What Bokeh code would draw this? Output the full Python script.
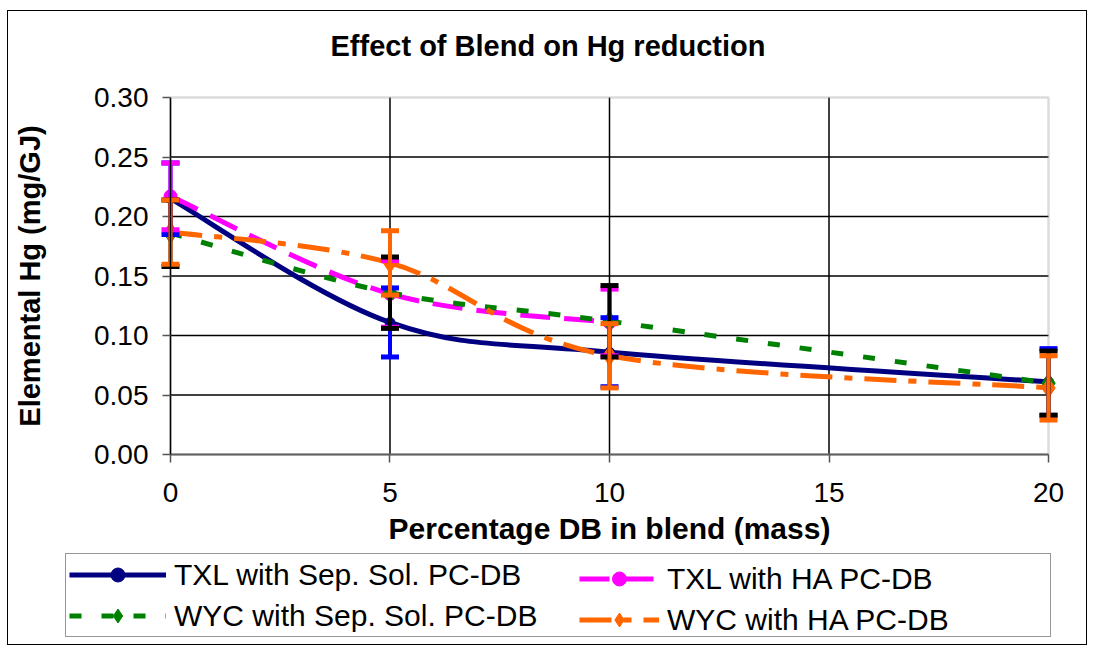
from bokeh.plotting import figure
from bokeh.models import (Range1d, FixedTicker, Whisker, TeeHead, ColumnDataSource,
                          Legend, LegendItem, PrintfTickFormatter, BoxAnnotation)
from bokeh.embed import file_html
from bokeh.resources import INLINE

# ---------------- data ----------------
blend_pct = [0, 5, 10, 20]
txl_sep = [0.215, 0.111, 0.086, 0.061]
txl_sep_err = [0.030, 0.029, 0.029, 0.028]

txl_ha_pct = [0, 5, 10]
txl_ha = [0.217, 0.135, 0.111]
txl_ha_err = [0.028, 0.028, 0.028]

wyc_sep = [0.186, 0.136, 0.112, 0.060]
wyc_sep_err = [0.028, 0.030, 0.030, 0.027]

wyc_ha = [0.187, 0.161, 0.083, 0.056]
wyc_ha_err = [0.027, 0.027, 0.027, 0.027]

x_ticks = [0, 5, 10, 15, 20]
y_ticks = [0.0, 0.05, 0.10, 0.15, 0.20, 0.25, 0.30]

FONT = "Liberation Sans"

# The frame covers the whole chart body; the visible plot box (0-20, 0-0.30)
# sits inside it, axes are pinned to the box with fixed_location.
X_LEFT_PAD = 3.69    # data units left of x=0 (room for y axis labels)
X_RIGHT_PAD = 0.911  # data units right of x=20
Y_BELOW = 0.1613     # data units below y=0 (room for x axis texts + legend)
Y_ABOVE = 0.0160     # data units above y=0.30 (room for the top tick label)

p = figure(width=1080, height=635, output_backend="svg", toolbar_location=None,
           x_range=Range1d(x_ticks[0] - X_LEFT_PAD, x_ticks[-1] + X_RIGHT_PAD),
           y_range=Range1d(y_ticks[0] - Y_BELOW, y_ticks[-1] + Y_ABOVE),
           min_border_left=0, min_border_right=0, min_border_top=67,
           min_border_bottom=0)
p.margin = (10, 0, 0, 7)
p.styles = {"border": "1px solid black"}
p.background_fill_color = "white"
p.border_fill_color = "white"
p.outline_line_color = None

p.title.text = "Effect of Blend on Hg reduction"
p.title.text_font = FONT
p.title.text_font_size = "29px"
p.title.text_font_style = "bold"
p.title.text_color = "black"
p.title.align = "left"
p.title.offset = 322
p.title.standoff = 33

# axes
p.xaxis.ticker = FixedTicker(ticks=x_ticks)
p.yaxis.ticker = FixedTicker(ticks=y_ticks)
p.yaxis.formatter = PrintfTickFormatter(format="%.2f")
for ax in (p.xaxis[0], p.yaxis[0]):
    ax.major_label_text_font = FONT
    ax.major_label_text_font_size = "28px"
    ax.major_label_text_color = "black"
    ax.axis_label_text_font = FONT
    ax.axis_label_text_font_style = "bold"
    ax.axis_label_text_color = "black"
    ax.major_tick_line_color = "#555555"
    ax.major_tick_line_width = 1.5
    ax.major_tick_out = 8
    ax.major_tick_in = 0
    ax.minor_tick_line_color = None
p.xaxis.bounds = (x_ticks[0], x_ticks[-1])
p.xaxis.fixed_location = y_ticks[0]
p.xaxis.axis_line_color = "#606060"
p.xaxis.axis_line_width = 2
p.yaxis.bounds = (y_ticks[0], y_ticks[-1])
p.yaxis.fixed_location = x_ticks[0]
p.yaxis.axis_line_color = "black"
p.yaxis.axis_line_width = 1.5
p.xaxis.axis_label = "Percentage DB in blend (mass)"
p.xaxis.axis_label_text_font_size = "30px"
p.xaxis.major_label_standoff = 20
p.xaxis.axis_label_standoff = 7
p.yaxis.axis_label = "Elemental Hg (mg/GJ)"
p.yaxis.axis_label_text_font_size = "29px"
p.yaxis.major_label_standoff = 14
p.yaxis.axis_label_standoff = 45

p.xgrid.grid_line_color = None
p.ygrid.grid_line_color = None

# grid lines limited to the plot box
gx = x_ticks[1:-1]
p.segment(x0=gx, y0=[y_ticks[0]] * len(gx), x1=gx, y1=[y_ticks[-1]] * len(gx),
          line_color="black", line_width=1.5, level="underlay")
gy = y_ticks[1:-1]
p.segment(x0=[x_ticks[0]] * len(gy), y0=gy, x1=[x_ticks[-1]] * len(gy), y1=gy,
          line_color="black", line_width=1.5, level="underlay")
# plot-area box
p.add_layout(BoxAnnotation(left=x_ticks[0], right=x_ticks[-1], bottom=y_ticks[0],
                           top=y_ticks[-1], fill_color=None, fill_alpha=0,
                           line_color="#8c8c8c", line_width=2.5, level="underlay"))


def smooth_source(xs, ys):
    """Excel-style smoothed line: cubic Bezier segments whose control points
    are derived from neighbouring data points (Catmull-Rom, 1/6 tension)."""
    n = len(xs)
    d = {k: [] for k in ("x0", "y0", "x1", "y1", "cx0", "cy0", "cx1", "cy1")}
    for i in range(n - 1):
        xp, yp = (xs[i - 1], ys[i - 1]) if i > 0 else (xs[i], ys[i])
        xn, yn = (xs[i + 2], ys[i + 2]) if i + 2 < n else (xs[i + 1], ys[i + 1])
        d["x0"].append(xs[i]); d["y0"].append(ys[i])
        d["x1"].append(xs[i + 1]); d["y1"].append(ys[i + 1])
        d["cx0"].append(xs[i] + (xs[i + 1] - xp) / 6)
        d["cy0"].append(ys[i] + (ys[i + 1] - yp) / 6)
        d["cx1"].append(xs[i + 1] - (xn - xs[i]) / 6)
        d["cy1"].append(ys[i + 1] - (yn - ys[i]) / 6)
    return ColumnDataSource(d)


series = [
    dict(name="TXL with Sep. Sol. PC-DB", x=blend_pct, y=txl_sep, err=txl_sep_err,
         color="#000080", err_color="#0000FF", dash="solid", marker="circle", size=10),
    dict(name="TXL with HA PC-DB", x=txl_ha_pct, y=txl_ha, err=txl_ha_err,
         color="#FF00FF", err_color="#FF00FF", dash="30 14", marker="circle", size=13),
    dict(name="WYC with Sep. Sol. PC-DB", x=blend_pct, y=wyc_sep, err=wyc_sep_err,
         color="#008000", err_color="#000000", dash="12 20", marker="diamond", size=20),
    dict(name="WYC with HA PC-DB", x=blend_pct, y=wyc_ha, err=wyc_ha_err,
         color="#FF6600", err_color="#FF6600", dash="32 12 8 12", marker="diamond", size=20),
]

items = []
for s in series:
    esrc = ColumnDataSource(dict(
        x=s["x"],
        upper=[v + e for v, e in zip(s["y"], s["err"])],
        lower=[v - e for v, e in zip(s["y"], s["err"])]))
    w = Whisker(base="x", upper="upper", lower="lower", source=esrc,
                line_color=s["err_color"], line_width=4, level="glyph",
                upper_head=TeeHead(size=18, line_color=s["err_color"], line_width=5),
                lower_head=TeeHead(size=18, line_color=s["err_color"], line_width=5))
    p.add_layout(w)
    bz = p.bezier(x0="x0", y0="y0", x1="x1", y1="y1", cx0="cx0", cy0="cy0",
                  cx1="cx1", cy1="cy1", source=smooth_source(s["x"], s["y"]),
                  line_color=s["color"], line_width=5, line_dash=s["dash"])
    sc = p.scatter(s["x"], s["y"], marker=s["marker"], size=s["size"],
                   fill_color=s["color"], line_color=s["color"])
    items.append(LegendItem(label=s["name"], renderers=[bz, sc]))


def make_legend(its, loc, label_width, glyph_width, border):
    return Legend(items=its, location=loc, orientation="vertical",
                  label_text_font=FONT, label_text_font_size="30px",
                  label_text_color="black", label_width=label_width,
                  label_height=35, glyph_width=glyph_width, glyph_height=35,
                  label_standoff=8, spacing=6, padding=3, margin=0,
                  border_line_color="#303030" if border else None,
                  border_line_width=1.5, background_fill_color="white",
                  background_fill_alpha=1.0 if border else 0.0)


# left column draws the full legend box; right column is overlaid on it
leg1 = make_legend([items[0], items[2]], (57, 9), 873, 97, True)
leg2 = make_legend([items[1], items[3]], (571, 9), 300, 80, False)
p.add_layout(leg1, "center")
p.add_layout(leg2, "center")

open("out.html", "w").write(file_html(p, INLINE))
